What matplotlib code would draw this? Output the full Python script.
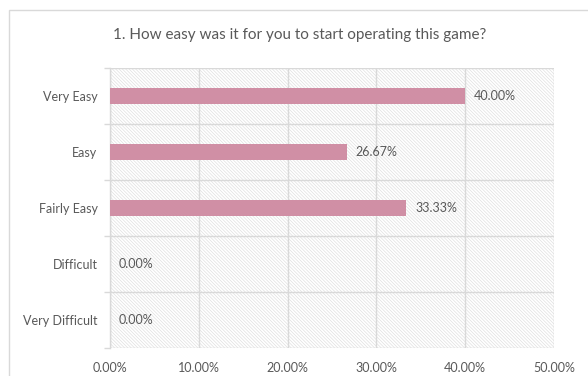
import matplotlib.pyplot as plt
from matplotlib.patches import Rectangle
from matplotlib.ticker import FuncFormatter

categories = ['Very Easy', 'Easy', 'Fairly Easy', 'Difficult', 'Very Difficult']
percents = [40.00, 26.67, 33.33, 0.00, 0.00]
x_ticks = [0, 10, 20, 30, 40, 50]

plt.rcParams['font.family'] = ['Lato', 'DejaVu Sans']
plt.rcParams['hatch.linewidth'] = 0.5
plt.rcParams['hatch.color'] = '#e0e0e0'

text_color = '#595959'
grid_color = '#d9d9d9'
bar_color = '#d08fa5'

fig = plt.figure(figsize=(5.88, 3.76), dpi=100)
W, H = 588, 376

# chart frame
frame = Rectangle((9 / W, -0.05), 1.0, 1 - 10 / H + 0.05, transform=fig.transFigure,
                  fill=False, edgecolor='#d9d9d9', linewidth=1.0)
fig.patches.append(frame)

ax = fig.add_axes([110 / W, 1 - 348 / H, 444 / W, 280 / H])

# hatched plot background
bg = Rectangle((0, 0), 1, 1, transform=ax.transAxes, facecolor='white',
               hatch='\\\\\\\\\\\\\\\\\\\\', edgecolor='#e0e0e0', linewidth=0, zorder=0)
ax.add_patch(bg)

y = list(range(len(categories)))
ax.barh(y, percents, height=0.29, color=bar_color, zorder=3)

for yi, v in zip(y, percents):
    ax.annotate(f'{v:.2f}%', xy=(v, yi), xytext=(6.5, 0), textcoords='offset points',
                va='center', ha='left', fontsize=9, color=text_color, zorder=4)

ax.set_xlim(0, 50)
ax.set_ylim(len(categories) - 0.5, -0.5)
ax.set_xticks(x_ticks)
ax.xaxis.set_major_formatter(FuncFormatter(lambda v, p: f'{v:.2f}%'))
ax.set_yticks(y)
ax.set_yticklabels(categories)
ax.set_yticks([i + 0.5 for i in range(-1, len(categories))], minor=True)

ax.tick_params(axis='x', length=0, pad=10, labelsize=9, labelcolor=text_color)
ax.tick_params(axis='y', which='major', length=0, pad=9, labelsize=9,
               labelcolor=text_color)
ax.tick_params(axis='y', which='minor', length=4, color=grid_color, width=1)

ax.grid(axis='x', which='major', color=grid_color, linewidth=1, zorder=1)
ax.grid(axis='y', which='minor', color=grid_color, linewidth=1, zorder=1)
ax.set_axisbelow(True)

for side in ['top', 'right', 'bottom']:
    ax.spines[side].set_visible(False)
ax.spines['left'].set_color(grid_color)
ax.spines['left'].set_linewidth(1)

fig.text(300 / W, 1 - 35 / H, '1. How easy was it for you to start operating this game?',
         ha='center', va='center', fontsize=11, color=text_color)

fig.savefig('out.png', dpi=100)
